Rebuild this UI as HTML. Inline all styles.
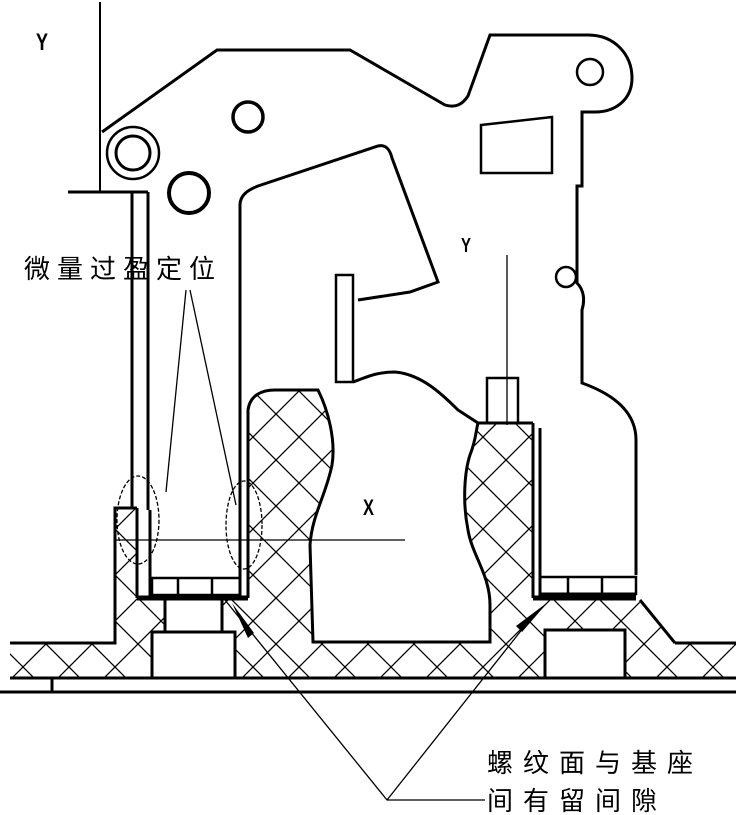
<!DOCTYPE html>
<html><head><meta charset="utf-8"><style>
html,body{margin:0;padding:0;background:#fff;}
svg{display:block}
text{font-family:"Liberation Sans","Noto Sans CJK SC",sans-serif;fill:#000}
</style></head><body>
<svg width="736" height="815" viewBox="0 0 736 815" xmlns="http://www.w3.org/2000/svg">
<defs>
<pattern id="h" width="46" height="46" patternUnits="userSpaceOnUse">
<path d="M0,0 L46,46 M46,0 L0,46" stroke="#000" stroke-width="1.3"/>
</pattern>
</defs>
<path d="M10,643 L115,643 L115,508 L137,508 L137,598 L248,598 L248,410 C250,395 262,390 275,390 L318,390 C328,410 336,440 332,465 C326,495 312,515 310,545 L313,642 L490,642 L490,605 C490,575 472,555 468,530 C462,500 465,470 470,455 C476,440 476,430 478,423 L533,423 L533,598 L636,598 L675,643 L736,643 L736,678 L10,678 Z" fill="url(#h)" stroke="none"/>
<rect x="152" y="632" width="83" height="46" fill="#fff" stroke="#000" stroke-width="3"/>
<rect x="165" y="598" width="57" height="34" fill="#fff" stroke="#000" stroke-width="3"/>
<rect x="545" y="630" width="80" height="48" fill="#fff" stroke="#000" stroke-width="3"/>
<g fill="none" stroke="#000" stroke-width="3">
<path d="M10,643 L115,643 L115,508 L137,508"/>
<path d="M248,598 L248,410 C250,395 262,390 275,390 L318,390 C328,410 336,440 332,465 C326,495 312,515 310,545 L313,642 L490,642 L490,605 C490,575 472,555 468,530 C462,500 465,470 470,455 C476,440 476,430 478,423 L533,423"/>
<path d="M675,643 L736,643"/>
<path d="M640,600 L675,643"/>
<line x1="10" y1="678" x2="736" y2="678"/>
<path d="M52,678 L52,692 L736,692"/>
<line x1="0" y1="692" x2="52" y2="692"/>
<line x1="137" y1="508" x2="137" y2="598"/>
<line x1="150" y1="510" x2="150" y2="598"/>
<line x1="132" y1="192" x2="132" y2="508"/>
<line x1="148" y1="192" x2="148" y2="510"/>
<path d="M68,192 L148,192"/>
<line x1="137" y1="598" x2="248" y2="598" stroke-width="5"/>
<rect x="152" y="578" width="88" height="17" stroke-width="2.5"/>
<line x1="178" y1="578" x2="178" y2="595" stroke-width="2.5"/>
<line x1="212" y1="578" x2="212" y2="595" stroke-width="2.5"/>
<line x1="533" y1="423" x2="533" y2="598"/>
<path d="M540,428 L540,594 L636,594"/>
<line x1="533" y1="598" x2="636" y2="598" stroke-width="5"/>
<rect x="540" y="577" width="96" height="17" stroke-width="2.5"/>
<line x1="568" y1="577" x2="568" y2="594" stroke-width="2.5"/>
<line x1="602" y1="577" x2="602" y2="594" stroke-width="2.5"/>
<rect x="487" y="378" width="31" height="45" stroke-width="2.5"/>
<path d="M240,598 L240,205 C240,195 248,190 258,186 L378,146 C386,144 390,150 392,158 L438,282 L410,292 L358,300"/>
<rect x="336" y="275" width="17" height="107" stroke-width="2.5"/>
<path d="M353,382 C365,378 375,372 395,372 C420,374 440,392 458,410 L478,423"/>
<path d="M102,132 L217,50 L350,50 L445,105 C455,108 462,105 468,96 L490,35 L588,35 C615,35 632,55 632,78 C632,100 615,112 595,112 L582,112 L582,186 L577,186 L577,283 C584,290 585,300 582,310 L582,383 C610,393 636,410 636,440 L636,575"/>
<path d="M481,125 L552,117 L552,173 L481,173 Z" stroke-width="2.5"/>
<circle cx="133" cy="153" r="26" stroke-width="2.5"/>
<circle cx="133" cy="153" r="17" stroke-width="3"/>
<circle cx="189" cy="193" r="20" stroke-width="4"/>
<circle cx="248" cy="117" r="15" stroke-width="3.5"/>
<circle cx="590" cy="72" r="13" stroke-width="2.5"/>
<circle cx="566" cy="277" r="10" stroke-width="2.5"/>
</g>
<g fill="none" stroke="#000" stroke-width="1.3">
<line x1="100" y1="2" x2="100" y2="192" stroke-width="2"/>
<line x1="507" y1="255" x2="507" y2="425"/>
<line x1="115" y1="540" x2="405" y2="540"/>
<path d="M186,290 L166,492"/>
<path d="M190,290 L236,505"/>
<ellipse cx="138" cy="520" rx="21" ry="44" stroke-dasharray="4,2"/>
<ellipse cx="244" cy="525" rx="18" ry="44" stroke-dasharray="4,2"/>
<path d="M485,800 L387,800 L225,600"/>
<path d="M387,800 L535,613"/>
</g>
<polygon points="232,603 254,633 248,638" fill="#000"/>
<polygon points="548,602 522,632 516,626" fill="#000"/>
<text x="36" y="50" font-size="24" font-family="Liberation Serif" font-weight="bold" transform="translate(36,50) scale(0.75,1) translate(-36,-50)">Y</text>
<text x="461" y="252" font-size="20" font-family="Liberation Serif" font-weight="bold" transform="translate(461,252) scale(0.75,1) translate(-461,-252)">Y</text>
<text x="363" y="515" font-size="22" font-family="Liberation Serif" font-weight="bold" transform="translate(363,515) scale(0.75,1) translate(-363,-515)">X</text>
<text x="24" y="278" font-size="26" letter-spacing="7">微量过盈定位</text>
<text x="487" y="772" font-size="26" letter-spacing="10">螺纹面与基座</text>
<text x="487" y="810" font-size="26" letter-spacing="10">间有留间隙</text>
</svg>
</body></html>
